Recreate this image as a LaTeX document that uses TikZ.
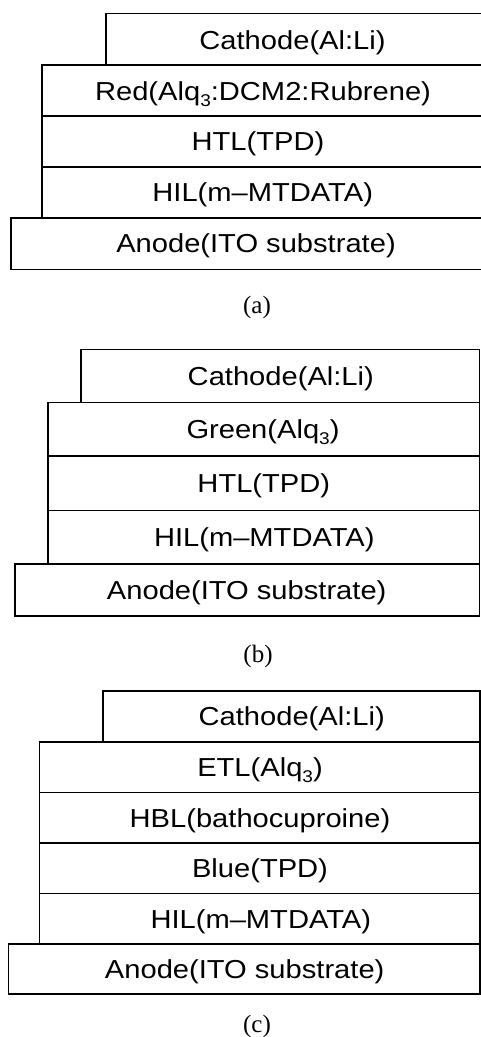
\documentclass[tikz,border=0pt]{standalone}
\usepackage{fontspec}
\newfontfamily\labfont[FakeStretch=1.12]{Liberation Sans}
\newfontfamily\capfont{Liberation Serif}
\newcommand\subthree{\raisebox{-6pt}{\fontsize{17}{17}\selectfont 3}}
\begin{document}
\begin{tikzpicture}[x=1pt,y=-1pt,
  layer/.style={draw=black, line width=1.6pt, line join=miter},
  lbl/.style={font=\labfont\fontsize{26}{28}\selectfont, anchor=base, inner sep=0pt},
  panel/.style={font=\capfont\fontsize{25}{27}\selectfont, inner sep=0pt}]
\useasboundingbox (0,0) rectangle (481,1037);
\clip (0,0) rectangle (481,1037);
% ---------- panel (a) ----------
\draw[layer] (106,13.3) rectangle (484,65);
\draw[layer] (42,65) rectangle (484,116);
\draw[layer] (42,116) rectangle (484,166.7);
\draw[layer] (42,166.7) rectangle (484,217.7);
\draw[layer] (11,217.7) rectangle (484,269.3);
\node[lbl] (aCat) at (292.5,49) {Cathode(Al:Li)};
\node[lbl] (aRed) at (263,100) {Red(Alq\subthree:DCM2:Rubrene)};
\node[lbl] (aHTL) at (258,150.5) {HTL(TPD)};
\node[lbl] (aHIL) at (262.7,201.5) {HIL(m–MTDATA)};
\node[lbl] (aAno) at (256,252.5) {Anode(ITO substrate)};
\node[panel] (aCap) at (257,307) {(a)};
% ---------- panel (b) ----------
\draw[layer] (81,349.3) rectangle (479.3,402.3);
\draw[layer] (47.7,402.3) rectangle (479.3,456);
\draw[layer] (47.7,456) rectangle (479.3,510.3);
\draw[layer] (47.7,510.3) rectangle (479.3,563.7);
\draw[layer] (14.7,563.7) rectangle (479.3,616);
\node[lbl] (bCat) at (280.8,385.3) {Cathode(Al:Li)};
\node[lbl] (bGre) at (263,438.7) {Green(Alq\subthree)};
\node[lbl] (bHTL) at (263.8,492.7) {HTL(TPD)};
\node[lbl] (bHIL) at (264.3,546.5) {HIL(m–MTDATA)};
\node[lbl] (bAno) at (246.7,599.3) {Anode(ITO substrate)};
\node[panel] (bCap) at (258,656) {(b)};
% ---------- panel (c) ----------
\draw[layer] (102.7,691) rectangle (480,741.7);
\draw[layer] (39.3,741.7) rectangle (480,792.3);
\draw[layer] (39.3,792.3) rectangle (480,843);
\draw[layer] (39.3,843) rectangle (480,893.3);
\draw[layer] (39.3,893.3) rectangle (480,944);
\draw[layer] (8.3,944) rectangle (480,994);
\node[lbl] (cCat) at (291.7,725.8) {Cathode(Al:Li)};
\node[lbl] (cETL) at (260,776.5) {ETL(Alq\subthree)};
\node[lbl] (cHBL) at (260,827.1) {HBL(bathocuproine)};
\node[lbl] (cBlu) at (260,877.6) {Blue(TPD)};
\node[lbl] (cHIL) at (260.8,928.1) {HIL(m–MTDATA)};
\node[lbl] (cAno) at (244.7,978.5) {Anode(ITO substrate)};
\node[panel] (cCap) at (257,1026) {(c)};
\end{tikzpicture}
\end{document}
